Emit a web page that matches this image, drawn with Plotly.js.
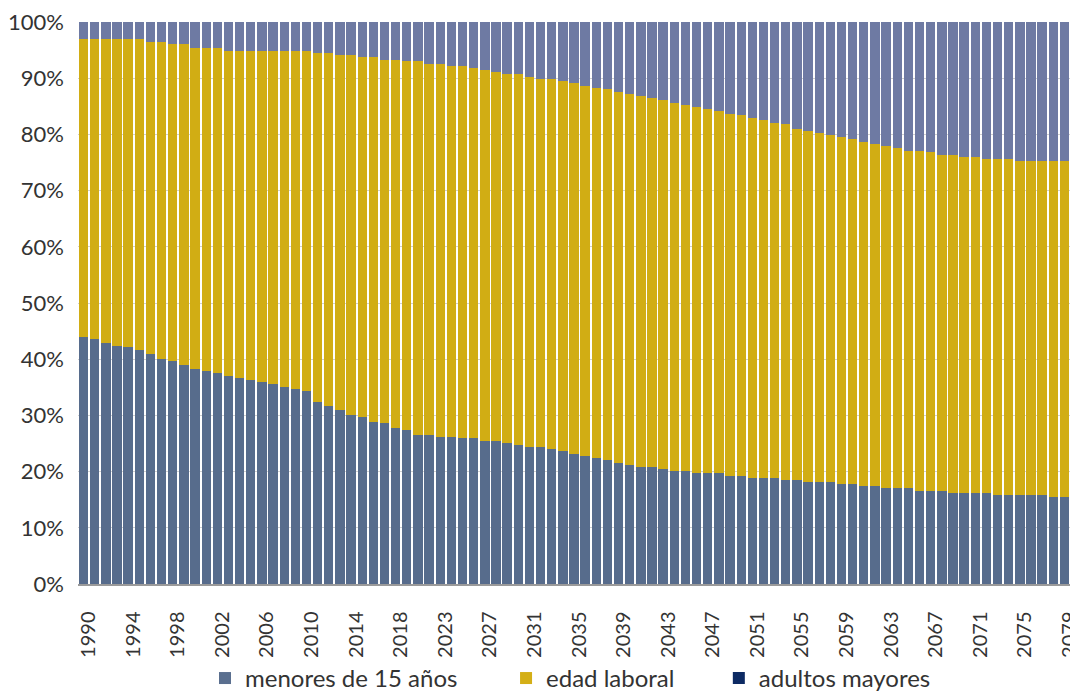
<!DOCTYPE html>
<html>
<head>
<meta charset="utf-8">
<script src="https://cdn.plot.ly/plotly-3.0.1.min.js"></script>
<style>
  html, body { margin: 0; padding: 0; background: #ffffff; }
  #chart { width: 1070px; height: 693px; }
</style>
</head>
<body>
<div id="chart"></div>
<script>
// Years (2022 not present in the source series)
const years = [
  1990,1991,1992,1993,1994,1995,1996,1997,1998,1999,
  2000,2001,2002,2003,2004,2005,2006,2007,2008,2009,
  2010,2011,2012,2013,2014,2015,2016,2017,2018,2019,
  2020,2021,2023,2024,2025,2026,2027,2028,2029,2030,
  2031,2032,2033,2034,2035,2036,2037,2038,2039,2040,
  2041,2042,2043,2044,2045,2046,2047,2048,2049,2050,
  2051,2052,2053,2054,2055,2056,2057,2058,2059,2060,
  2061,2062,2063,2064,2065,2066,2067,2068,2069,2070,
  2071,2072,2073,2074,2075,2076,2077,2078,2079
];

// Share of population (%) by group
const menores = [
  44.0,43.6,42.9,42.4,42.1,41.7,40.9,40.1,39.7,38.9,
  38.2,37.9,37.5,37.0,36.6,36.3,35.9,35.5,35.1,34.7,
  34.3,32.4,31.6,30.9,30.1,29.7,28.9,28.6,27.8,27.4,
  26.6,26.6,26.2,26.2,25.9,25.9,25.4,25.4,25.1,24.7,
  24.3,24.3,24.0,23.6,23.2,22.7,22.4,22.0,21.6,21.2,
  20.8,20.8,20.5,20.1,20.1,19.7,19.7,19.7,19.3,19.3,
  18.9,18.9,18.9,18.5,18.5,18.1,18.1,18.1,17.8,17.8,
  17.4,17.4,17.0,17.0,17.0,16.6,16.6,16.6,16.2,16.2,
  16.2,16.2,15.8,15.8,15.8,15.8,15.8,15.4,15.4
];
const edadLaboral = [
  52.9,53.3,54.0,54.5,54.8,55.2,55.5,56.3,56.4,57.2,
  57.1,57.4,57.8,57.9,58.3,58.6,59.0,59.4,59.8,60.2,
  60.6,62.1,62.9,63.2,64.0,64.0,64.8,64.7,65.5,65.6,
  66.4,66.0,66.4,66.0,66.3,65.9,66.0,65.7,65.6,66.0,
  66.0,65.6,65.9,65.9,65.9,66.0,65.9,66.0,66.0,66.0,
  66.0,65.6,65.6,65.5,65.1,65.1,64.8,64.4,64.4,64.1,
  64.1,63.6,63.2,63.3,62.5,62.5,62.1,61.8,61.7,61.3,
  61.3,60.9,60.9,60.6,60.1,60.5,60.2,59.8,60.2,59.8,
  59.8,59.4,59.8,59.8,59.5,59.5,59.5,59.9,59.9
];
const adultos = [
  3.1,3.1,3.1,3.1,3.1,3.1,3.6,3.6,3.9,3.9,
  4.7,4.7,4.7,5.1,5.1,5.1,5.1,5.1,5.1,5.1,
  5.1,5.5,5.5,5.9,5.9,6.3,6.3,6.7,6.7,7.0,
  7.0,7.4,7.4,7.8,7.8,8.2,8.6,8.9,9.3,9.3,
  9.7,10.1,10.1,10.5,10.9,11.3,11.7,12.0,12.4,12.8,
  13.2,13.6,13.9,14.4,14.8,15.2,15.5,15.9,16.3,16.6,
  17.0,17.5,17.9,18.2,19.0,19.4,19.8,20.1,20.5,20.9,
  21.3,21.7,22.1,22.4,22.9,22.9,23.2,23.6,23.6,24.0,
  24.0,24.4,24.4,24.4,24.7,24.7,24.7,24.7,24.7
];

const seriesNames = ['menores de 15 años', 'edad laboral', 'adultos mayores'];
const tickYears = [1990,1994,1998,2002,2006,2010,2014,2018,2023,2027,2031,2035,2039,2043,2047,2051,2055,2059,2063,2067,2071,2075,2079];

const barColors = ['#576c8c', '#d1ad14', '#6e7aa3'];
const legendColors = ['#5a6f8f', '#d4af17', '#0d2a63'];

const xs = years.map(String);
const values = [menores, edadLaboral, adultos];
const legendIds = ['legend', 'legend2', 'legend3'];
const legendX = [0.128, 0.4315, 0.646];

const traces = values.map((v, i) => ({
  type: 'bar',
  x: xs,
  y: v,
  name: seriesNames[i],
  marker: { color: barColors[i], line: { width: 0 } },
  showlegend: false,
  hoverinfo: 'x+y+name'
}));

// legend entries (legend swatches use the source's legend colours)
seriesNames.forEach((n, i) => {
  traces.push({
    type: 'bar',
    x: [null],
    y: [null],
    name: n,
    legend: legendIds[i],
    marker: { color: legendColors[i] },
    showlegend: true,
    hoverinfo: 'skip'
  });
});

const layout = {
  width: 1070,
  height: 693,
  margin: { l: 78, r: 0, t: 22, b: 108.5, pad: 0, autoexpand: false },
  paper_bgcolor: '#ffffff',
  plot_bgcolor: '#ffffff',
  font: { family: 'Lato, "Open Sans", sans-serif', color: '#333333', size: 22 },
  barmode: 'stack',
  barnorm: 'percent',
  bargap: 0.16,
  xaxis: {
    type: 'category',
    categoryorder: 'array',
    categoryarray: xs,
    tickmode: 'array',
    tickvals: tickYears.map(String),
    ticktext: tickYears.map(String),
    tickangle: -90,
    tickfont: { size: 20, color: '#333333' },
    ticks: '',
    ticklabelstandoff: 18,
    ticklabelshift: 5,
    automargin: false,
    showline: true,
    linecolor: '#9a9a9a',
    linewidth: 1.5,
    showgrid: false,
    zeroline: false,
    range: [-0.5, years.length - 0.5],
    fixedrange: true
  },
  yaxis: {
    range: [0, 100],
    tickmode: 'linear',
    tick0: 0,
    dtick: 10,
    ticksuffix: '%',
    tickfont: { size: 22, color: '#333333' },
    ticks: '',
    ticklabelstandoff: 13,
    automargin: false,
    showgrid: true,
    gridcolor: 'rgba(120,120,120,0.35)',
    gridwidth: 1,
    zeroline: false,
    showline: false,
    layer: 'above traces',
    fixedrange: true
  },
  showlegend: true
};

legendIds.forEach((id, i) => {
  layout[id] = {
    orientation: 'h',
    x: legendX[i],
    xanchor: 'left',
    y: -0.128,
    yanchor: 'top',
    bgcolor: 'rgba(0,0,0,0)',
    font: { size: 24, color: '#333333' },
    itemclick: false,
    itemdoubleclick: false
  };
});

Plotly.newPlot('chart', traces, layout, { displayModeBar: false, staticPlot: true });
</script>
</body>
</html>
